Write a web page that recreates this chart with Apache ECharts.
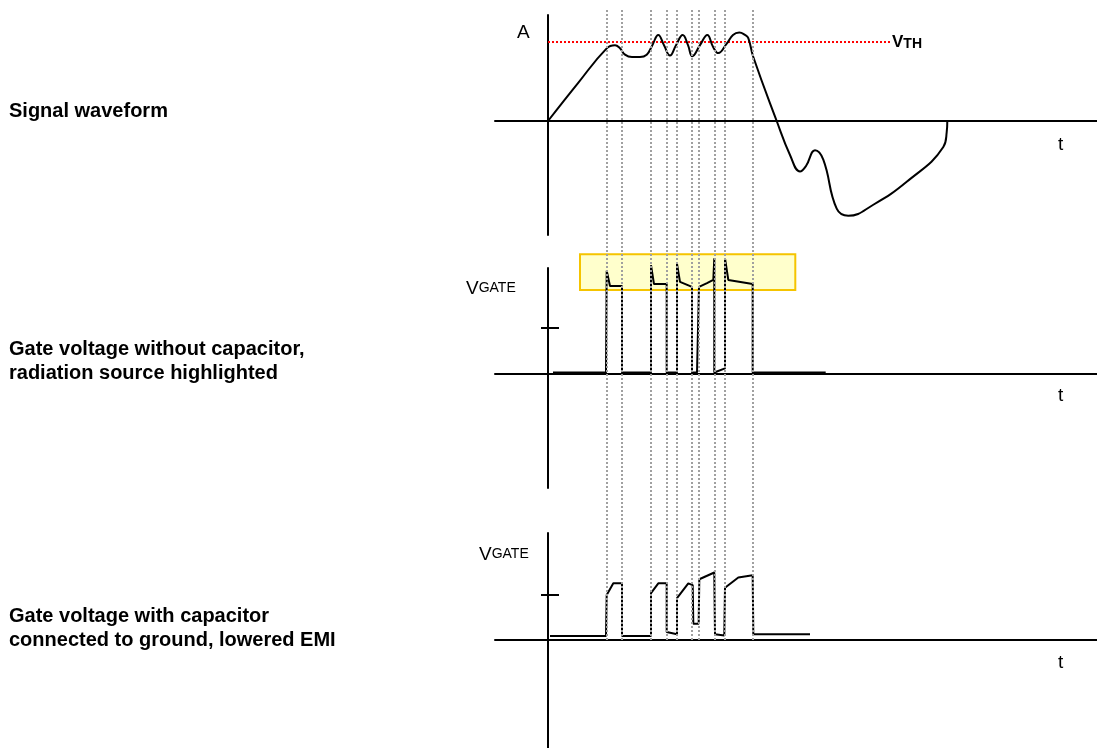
<!DOCTYPE html>
<html>
<head>
<meta charset="utf-8">
<script src="https://cdn.jsdelivr.net/npm/echarts@6/dist/echarts.min.js"></script>
<style>
  html, body { margin: 0; padding: 0; background: #fff; }
  #main { width: 1097px; height: 748px; }
</style>
</head>
<body>
<div id="main"></div>
<script>
// time axis: arbitrary units, t = 0 at the vertical axis
const tMin = -5.3;
const tMax = 54.9;

// switching instants (dotted guides)
const switchTimes = [5.85, 7.4, 10.3, 11.85, 12.9, 14.4, 15.1, 16.65, 17.7, 20.45];

// signal waveform, amplitude relative to V_TH
const signalWave = [
  [0, 0], [3, 0.48], [5.87, 0.92], [6.7, 0.96], [7.2, 0.92], [7.7, 0.84], [8.4, 0.81],
  [9.2, 0.81], [9.87, 0.84], [10.4, 0.95], [11.03, 1.09], [11.6, 0.96], [12.2, 0.83],
  [12.8, 0.96], [13.47, 1.09], [14.0, 0.96], [14.43, 0.82], [15.2, 0.96], [15.93, 1.09],
  [16.5, 0.94], [17.03, 0.86], [17.87, 0.98], [18.5, 1.09], [19.13, 1.12], [19.7, 1.09],
  [20.03, 1.05], [20.53, 0.81], [22.87, 0], [24.2, -0.43], [25.2, -0.64], [25.8, -0.57],
  [26.7, -0.37], [27.53, -0.49], [28.87, -1.11], [30.03, -1.2], [32.53, -1.06],
  [35.87, -0.77], [39.53, -0.33], [39.87, -0.14], [39.93, 0]
];
const thresholdLevel = 1;
const thresholdSpan = [0, 34.2];

// gate voltage without capacitor (tick = 1)
const gateNoCap = [
  [0.5, 0.02], [5.8, 0.02], [5.87, 2.23], [6.2, 1.9], [7.4, 1.9], [7.4, 0.02],
  [10.3, 0.02], [10.3, 2.35], [10.6, 1.94], [11.87, 1.94], [11.87, 0.02],
  [12.9, 0.02], [12.9, 2.38], [13.2, 1.99], [14.4, 1.88], [14.4, 0.02],
  [14.9, 0.02], [15.1, 1.88], [15.9, 1.96], [16.53, 2.03], [16.63, 2.5], [16.63, 0.02],
  [17.7, 0.11], [17.7, 2.5], [18.03, 2.03], [20.47, 1.94], [20.47, 0.02],
  [20.7, 0.02], [27.77, 0.02]
];
// highlighted radiation source region: [t0, v0, t1, v1]
const highlightBox = [3.2, 2.59, 24.73, 1.81];

// gate voltage with capacitor (tick = 1)
const gateWithCap = [
  [0.2, 0.09], [5.8, 0.09], [5.87, 1.0], [6.53, 1.26], [7.4, 1.26], [7.4, 0.09],
  [10.3, 0.09], [10.3, 1.04], [11.03, 1.26], [11.87, 1.26], [11.87, 0.18],
  [12.9, 0.13], [12.9, 0.93], [14.03, 1.26], [14.47, 1.22], [14.53, 0.36],
  [15.07, 0.36], [15.13, 1.35], [16.63, 1.5], [16.7, 0.13], [17.63, 0.1],
  [17.7, 1.16], [19.03, 1.39], [20.47, 1.44], [20.53, 0.13], [26.2, 0.13]
];
const gateTick = [1];

const font = "'Liberation Sans', Arial, sans-serif";
const myChart = echarts.init(document.getElementById('main'), null, { renderer: 'canvas' });

const axisLine = { show: true, onZero: true, lineStyle: { color: '#000', width: 2 } };
const xAxisFor = (gridIndex, visible) => ({
  type: 'value', gridIndex: gridIndex, min: tMin, max: tMax,
  axisLine: Object.assign({}, axisLine, { show: visible }),
  axisTick: { show: false }, axisLabel: { show: false }, splitLine: { show: false }
});
const yAxisFor = (gridIndex, min, max, opts) => Object.assign({
  type: 'value', gridIndex: gridIndex, min: min, max: max, position: 'left',
  axisLine: axisLine,
  axisTick: { show: false }, axisLabel: { show: false }, splitLine: { show: false }
}, opts || {});
// tick crossing the axis: short part outside, longer part inside (second axis shifted onto t = 0)
const tickOut = { axisTick: { show: true, customValues: gateTick, length: 7, lineStyle: { color: '#000', width: 2 } } };
const tickIn = {
  offset: tMin * 10,
  axisLine: { show: false, onZero: false },
  axisTick: { show: true, inside: true, customValues: gateTick, length: 11, lineStyle: { color: '#000', width: 2 } }
};

const labelStyle = { fontFamily: font, fontSize: 20, fontWeight: 'bold', color: '#000', lineHeight: 24 };
const plain = { fontFamily: font, fontSize: 19, fontWeight: 'normal', color: '#000' };
const vgate = {
  fontFamily: font, fontWeight: 'normal', color: '#000',
  rich: {
    v: { fontFamily: font, fontSize: 19, fontWeight: 'normal', color: '#000' },
    g: { fontFamily: font, fontSize: 14, fontWeight: 'normal', color: '#000' }
  }
};

const option = {
  backgroundColor: '#fff',
  animation: false,
  title: [
    { text: 'Signal waveform', left: 9, top: 99, padding: 0, textStyle: labelStyle },
    { text: 'Gate voltage without capacitor,\nradiation source highlighted', left: 9, top: 337, padding: 0, textStyle: labelStyle },
    { text: 'Gate voltage with capacitor\nconnected to ground, lowered EMI', left: 9, top: 604, padding: 0, textStyle: labelStyle },
    { text: 'A', left: 517, top: 23, padding: 0, textStyle: plain },
    { text: '{v|V}{g|GATE}', left: 466, top: 279, padding: 0, textStyle: vgate },
    { text: '{v|V}{g|GATE}', left: 479, top: 545, padding: 0, textStyle: vgate },
    { text: 't', left: 1058, top: 135, padding: 0, textStyle: plain },
    { text: 't', left: 1058, top: 386, padding: 0, textStyle: plain },
    { text: 't', left: 1058, top: 653, padding: 0, textStyle: plain }
  ],
  grid: [
    { left: 495, right: 0, top: 15, height: 220 },
    { left: 495, right: 0, top: 268, height: 220 },
    { left: 495, right: 0, top: 533, height: 215 },
    { left: 495, right: 0, top: 8, height: 632 }
  ],
  xAxis: [xAxisFor(0, true), xAxisFor(1, true), xAxisFor(2, true), xAxisFor(3, false)],
  yAxis: [
    yAxisFor(0, -1.443, 1.342),
    yAxisFor(1, -2.49, 2.29, tickOut),
    yAxisFor(1, -2.49, 2.29, tickIn),
    yAxisFor(2, -2.4, 2.378, tickOut),
    yAxisFor(2, -2.4, 2.378, tickIn),
    yAxisFor(3, 0, 1, { axisLine: { show: false } })
  ],
  series: [
    {
      name: 'highlight', type: 'custom', xAxisIndex: 1, yAxisIndex: 1, z: 1, silent: true, clip: false,
      data: [highlightBox],
      encode: { x: [0, 2], y: [1, 3] },
      renderItem: (params, api) => {
        const p0 = api.coord([api.value(0), api.value(1)]);
        const p1 = api.coord([api.value(2), api.value(3)]);
        return {
          type: 'rect',
          shape: { x: p0[0], y: p0[1], width: p1[0] - p0[0], height: p1[1] - p0[1] },
          style: { fill: '#ffffcc', stroke: '#f5c400', lineWidth: 2 }
        };
      }
    },
    {
      name: 'switching', type: 'line', xAxisIndex: 3, yAxisIndex: 5, z: 1.5,
      data: [[0, 0]], symbol: 'none', silent: true,
      lineStyle: { opacity: 0 },
      markLine: {
        silent: true, symbol: 'none',
        label: { show: false },
        lineStyle: { color: '#a0a0a0', width: 2, type: [2, 2] },
        data: switchTimes.map(t => ({ xAxis: t }))
      }
    },
    {
      name: 'threshold', type: 'line', xAxisIndex: 0, yAxisIndex: 0, clip: false,
      data: thresholdSpan.map(t => [t, thresholdLevel]),
      symbol: 'none', silent: true,
      lineStyle: { color: '#ff0000', width: 2, type: [2, 2] },
      endLabel: {
        show: true, distance: 2, formatter: '{v|V}{s|TH}',
        rich: {
          v: { fontFamily: font, fontSize: 17, fontWeight: 'bold', color: '#000' },
          s: { fontFamily: font, fontSize: 14, fontWeight: 'bold', color: '#000', padding: [5, 0, 0, 0] }
        }
      }
    },
    {
      name: 'signal', type: 'line', xAxisIndex: 0, yAxisIndex: 0, clip: false,
      data: signalWave, smooth: 0.45, symbol: 'none', silent: true,
      lineStyle: { color: '#000', width: 2 }
    },
    {
      name: 'gate without capacitor', type: 'line', xAxisIndex: 1, yAxisIndex: 1, clip: false,
      data: gateNoCap, symbol: 'none', silent: true,
      lineStyle: { color: '#000', width: 2 }
    },
    {
      name: 'gate with capacitor', type: 'line', xAxisIndex: 2, yAxisIndex: 3, clip: false,
      data: gateWithCap, symbol: 'none', silent: true,
      lineStyle: { color: '#000', width: 2 }
    }
  ]
};

myChart.setOption(option);
</script>
</body>
</html>
